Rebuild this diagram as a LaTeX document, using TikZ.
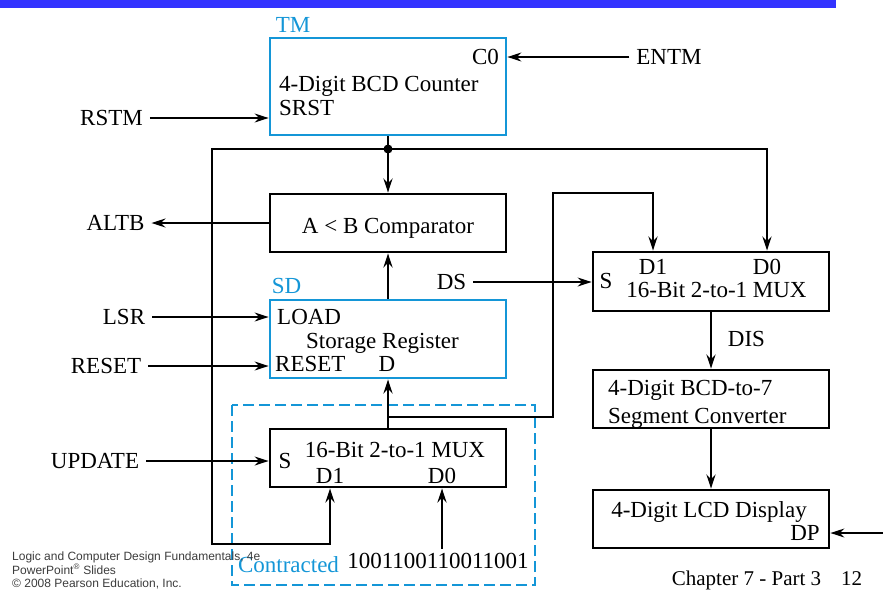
\documentclass[tikz,border=0pt]{standalone}
\usepackage{fontspec}
\setmainfont{Liberation Serif}
\newfontfamily\footfont{Liberation Sans}
\usetikzlibrary{positioning,arrows.meta}
\definecolor{regblue}{RGB}{20,150,215}
\definecolor{barblue}{RGB}{51,51,255}
\definecolor{footgray}{RGB}{60,60,60}

\begin{document}
\begin{tikzpicture}[
  x=1pt, y=-1pt,
  font=\fontsize{23}{27}\selectfont,
  box/.style={draw, line width=2.8pt, inner sep=0pt, minimum width=236pt},
  reg/.style={box, draw=regblue},
  lbl/.style={inner sep=0pt},
  sigtxt/.style={inner sep=0pt, outer sep=7pt},
  tag/.style={lbl, text=regblue},
  flow/.style={-{Stealth[length=14pt,width=9pt]}, line width=2.8pt},
  wire/.style={line width=2.8pt},
  sig/.style={-{Stealth[length=14pt,width=9pt]}, line width=1.6pt},
  cbox/.style={draw=regblue, line width=1.8pt, dash pattern=on 11pt off 5pt},
  footer/.style={lbl, anchor=base west, font=\footfont\fontsize{12}{14}\selectfont, text=footgray},
]
\useasboundingbox (0,0) rectangle (883,590);
\fill[barblue] (0,0) rectangle (836,8);

\node[reg, minimum height=97pt] (tm) at (388,86.5) {};
\node[box, minimum height=58pt] (cmp) at (388,223) {};
\node[reg, minimum height=78pt] (sr) at (388,339) {};
\node[box, minimum height=58pt] (mxl) at (388,458) {};
\node[box, minimum height=59pt] (mxr) at (711,281.5) {};
\node[box, minimum height=58pt] (cnv) at (711,399) {};
\node[box, minimum height=58pt] (lcd) at (711,519) {};
\draw[cbox] (232,405) rectangle (535,585);

\node[tag, anchor=base] (tmname) at (293,32) {TM};
\node[lbl, anchor=base] (tmc0) at (485.5,64) {C0};
\node[lbl, anchor=base west] (tmtitle) at (279,91) {4-Digit BCD Counter};
\node[lbl, anchor=base west] (tmsrst) at (279,115) {SRST};
\node[lbl, anchor=base] (cmptitle) at (388,233) {A < B Comparator};
\node[tag, anchor=base] (srname) at (286.5,293) {SD};
\node[lbl, anchor=base west] (srload) at (277,324) {LOAD};
\node[lbl, anchor=base] (srtitle) at (382.5,348) {Storage Register};
\node[lbl, anchor=base west] (srreset) at (275,371) {RESET};
\node[lbl, anchor=base] (srd) at (387,371) {D};
\node[lbl, anchor=base] (sl) at (285,468) {S};
\node[lbl, anchor=base] (mxltitle) at (395,457) {16-Bit 2-to-1 MUX};
\node[lbl, anchor=base] (d1l) at (330,483) {D1};
\node[lbl, anchor=base] (d0l) at (442,483) {D0};
\node[lbl, anchor=base] (sr2) at (606,288) {S};
\node[lbl, anchor=base] (d1r) at (653,274) {D1};
\node[lbl, anchor=base] (d0r) at (767,274) {D0};
\node[lbl, anchor=base] (mxrtitle) at (716.5,297) {16-Bit 2-to-1 MUX};
\node[lbl, anchor=base west] (cnv1) at (608,395) {4-Digit BCD-to-7};
\node[lbl, anchor=base west] (cnv2) at (608,423) {Segment Converter};
\node[lbl, anchor=base] (lcdtitle) at (709,517) {4-Digit LCD Display};
\node[lbl, anchor=base] (lcddp) at (805,540) {DP};
\node[tag, anchor=base] (contr) at (288.5,572) {Contracted};
\node[lbl, anchor=base, outer sep=4pt] (bits) at (438,568) {1001100110011001};
\node[lbl] (dis) at (746.5,339) {DIS};

\node[sigtxt] (entm) at (669,57) {ENTM};
\node[sigtxt] (rstm) at (111.5,118) {RSTM};
\node[sigtxt] (altb) at (115.5,223) {ALTB};
\node[sigtxt] (lsr) at (124,317) {LSR};
\node[sigtxt] (rst) at (106,366) {RESET};
\node[sigtxt] (ds) at (451.5,282) {DS};
\node[sigtxt] (upd) at (95,461) {UPDATE};
\coordinate (dpin) at (883,533);

\coordinate (bus) at (388,149);
\coordinate (lcorner) at (212,544);
\coordinate (split) at (388,417);
\coordinate (jog) at (553,193);

\draw[wire] (tm.south) -- (bus);
\draw[flow] (bus) -- (cmp.north);
\draw[flow] (bus) -| (mxr.north -| d0r);
\draw[flow] (bus) -| (lcorner) -| (mxl.south -| d1l);
\fill (bus) circle[radius=4.5pt];
\draw[flow] (sr.north) -- (cmp.south);
\draw[flow] (mxl.north) -- (sr.south);
\draw[flow] (split) -| (jog) -| (mxr.north -| d1r);
\draw[flow] (mxr.south) -- (cnv.north);
\draw[flow] (cnv.south) -- (lcd.north);
\draw[flow] (bits.north -| d0l) -- (mxl.south -| d0l);

\draw[sig] (entm.west) -- (tm.east |- entm);
\draw[sig] (rstm.east) -- (tm.west |- rstm);
\draw[sig] (cmp.west) -- (altb.east);
\draw[sig] (lsr.east) -- (sr.west |- lsr);
\draw[sig] (rst.east) -- (sr.west |- rst);
\draw[sig] (ds.east) -- (mxr.west |- ds);
\draw[sig] (upd.east) -- (mxl.west |- upd);
\draw[sig] (dpin) -- (lcd.east |- dpin);

\node[footer] (foot1) at (12,560) {Logic and Computer Design Fundamentals, 4e};
\node[footer] (foot2) at (12,574) {PowerPoint\textsuperscript{\textregistered} Slides};
\node[footer] (foot3) at (12,587) {\textcopyright{} 2008 Pearson Education, Inc.};
\node[lbl, anchor=base, font=\fontsize{21}{25}\selectfont] (chap) at (767,585) {Chapter 7 - Part 3\hspace{20pt}12};
\end{tikzpicture}
\end{document}
